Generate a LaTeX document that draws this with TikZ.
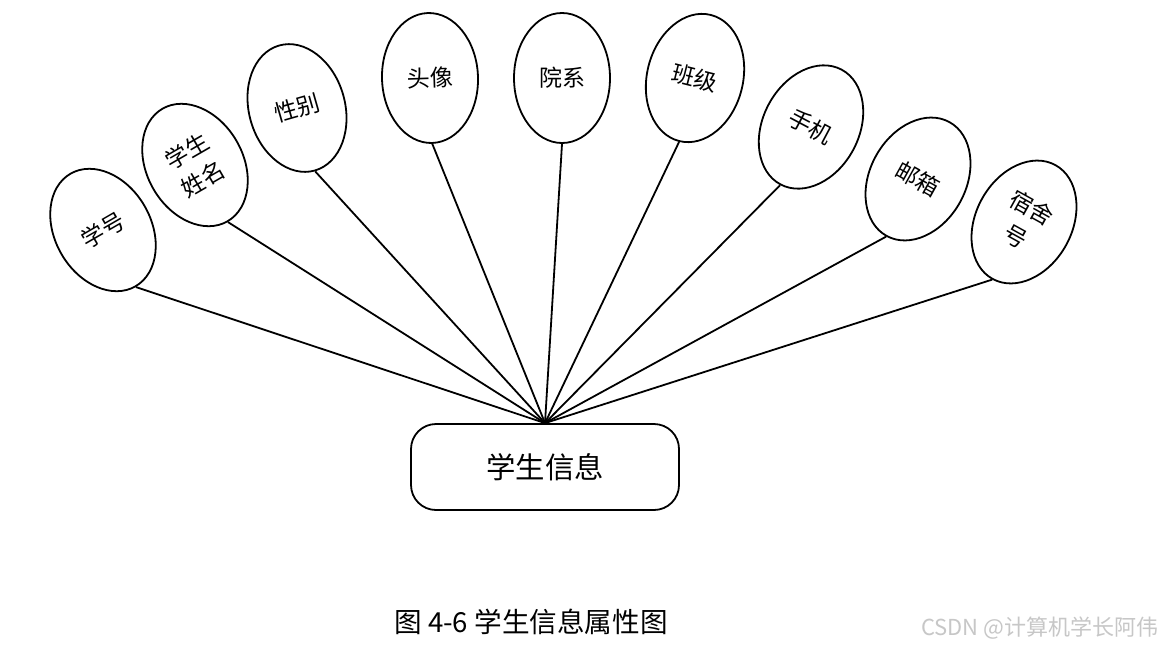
\documentclass[tikz,border=0pt]{standalone}
\usepackage{fontspec}
\setmainfont{Noto Sans CJK SC}
\usepackage{xcolor}
\usepackage{tikz}
\usetikzlibrary{positioning,shapes.geometric}

\begin{document}
\begin{tikzpicture}[x=0.5pt, y=-0.5pt, line width=0.9pt,
  attr/.style={draw, ellipse, minimum width=48pt, minimum height=65pt, inner sep=0pt, align=center, font=\fontsize{11.5pt}{16pt}\selectfont},
  entity/.style={draw, rectangle, rounded corners=12.5pt, minimum width=134pt, minimum height=43pt, font=\fontsize{14.7pt}{16pt}\selectfont}]
  \useasboundingbox[fill=white] (0,0) rectangle (1170,648);

  \node[entity] (info) at (545,467) {学生信息};

  \node[attr, rotate=30] (id) at (103,230) {学号};
  \node[attr, rotate=30] (name) at (195,165) {学生\\姓名};
  \node[attr, rotate=16] (gender) at (297,108) {性别};
  \node[attr, rotate=2] (avatar) at (430,78) {头像};
  \node[attr] (dept) at (562,78) {院系};
  \node[attr, rotate=-14] (class) at (695,78) {班级};
  \node[attr, rotate=-28] (phone) at (811,127) {手机};
  \node[attr, rotate=-29] (email) at (918,179) {邮箱};
  \node[attr, rotate=-29] (dorm) at (1024,222) {宿舍\\号};

  \draw (info.north) -- (id.south);
  \draw (info.north) -- (name.south);
  \draw (info.north) -- (gender.south);
  \draw (info.north) -- (avatar.south);
  \draw (info.north) -- (dept.south);
  \draw (info.north) -- (class.south);
  \draw (info.north) -- (phone.south);
  \draw (info.north) -- (email.south);
  \draw (info.north) -- (dorm.south);

  \node[font=\fontsize{13.8pt}{15pt}\selectfont] (caption) at (531,622) {图 4-6 学生信息属性图};
  \node[font=\fontsize{11pt}{13pt}\selectfont, text=black!22, anchor=east] (mark) at (1166,628) {CSDN @计算机学长阿伟};
\end{tikzpicture}
\end{document}
